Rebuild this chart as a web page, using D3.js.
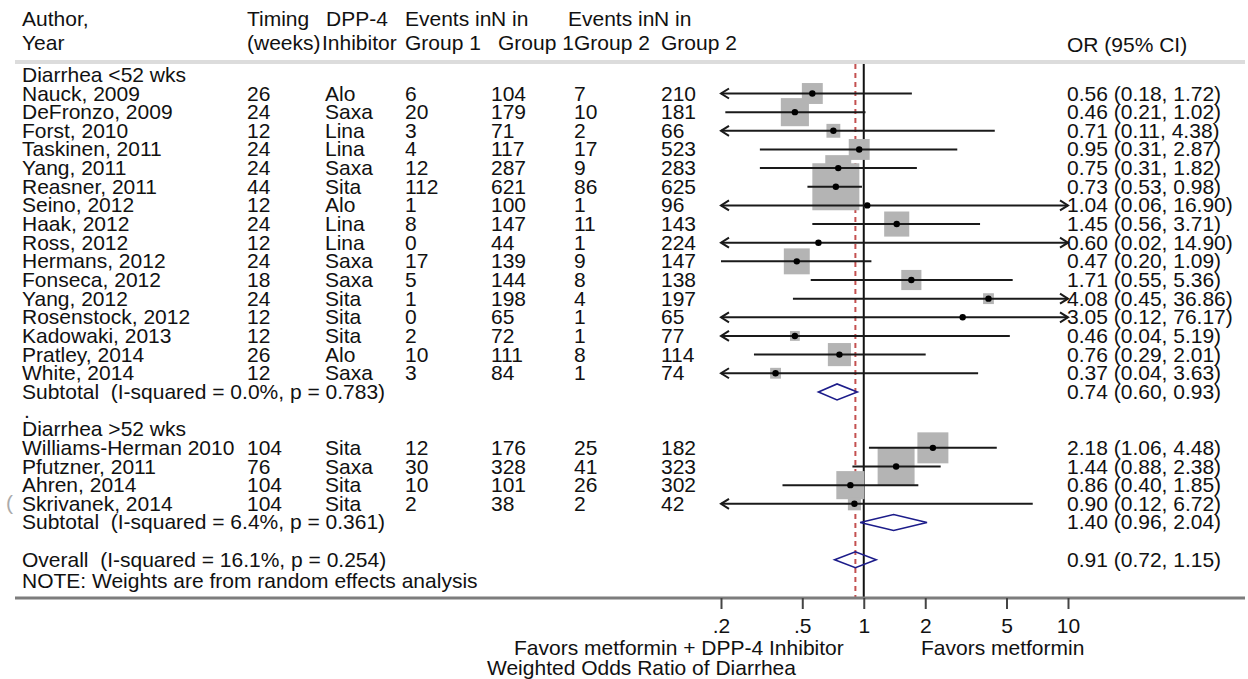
<!DOCTYPE html>
<html>
<head>
<meta charset="utf-8">
<script src="https://cdn.jsdelivr.net/npm/d3@7"></script>
<style>
  html, body { margin: 0; padding: 0; background: #fff; }
  svg { display: block; }
  text { font-family: "Liberation Sans", Arial, sans-serif; font-size: 21px; fill: #111; white-space: pre; }
</style>
</head>
<body>
<svg id="chart" width="1248" height="679"></svg>
<script>
// ---- study data -------------------------------------------------------
const authors  = ["Nauck, 2009", "DeFronzo, 2009", "Forst, 2010", "Taskinen, 2011", "Yang, 2011",
                  "Reasner, 2011", "Seino, 2012", "Haak, 2012", "Ross, 2012", "Hermans, 2012",
                  "Fonseca, 2012", "Yang, 2012", "Rosenstock, 2012", "Kadowaki, 2013", "Pratley, 2014",
                  "White, 2014",
                  "Williams-Herman 2010", "Pfutzner, 2011", "Ahren, 2014", "Skrivanek, 2014"];
const subgroup = [0,0,0,0,0,0,0,0,0,0,0,0,0,0,0,0, 1,1,1,1];
const timing   = [26, 24, 12, 24, 24, 44, 12, 24, 12, 24, 18, 24, 12, 12, 26, 12, 104, 76, 104, 104];
const inhibitor= ["Alo", "Saxa", "Lina", "Lina", "Saxa", "Sita", "Alo", "Lina", "Lina", "Saxa",
                  "Saxa", "Sita", "Sita", "Sita", "Alo", "Saxa", "Sita", "Saxa", "Sita", "Sita"];
const events1  = [6, 20, 3, 4, 12, 112, 1, 8, 0, 17, 5, 1, 0, 2, 10, 3, 12, 30, 10, 2];
const nGroup1  = [104, 179, 71, 117, 287, 621, 100, 147, 44, 139, 144, 198, 65, 72, 111, 84, 176, 328, 101, 38];
const events2  = [7, 10, 2, 17, 9, 86, 1, 11, 1, 9, 8, 4, 1, 1, 8, 1, 25, 41, 26, 2];
const nGroup2  = [210, 181, 66, 523, 283, 625, 96, 143, 224, 147, 138, 197, 65, 77, 114, 74, 182, 323, 302, 42];
const oddsRatio= [0.56, 0.46, 0.71, 0.95, 0.75, 0.73, 1.04, 1.45, 0.60, 0.47, 1.71, 4.08, 3.05, 0.46, 0.76, 0.37,
                  2.18, 1.44, 0.86, 0.90];
const ciLow    = [0.18, 0.21, 0.11, 0.31, 0.31, 0.53, 0.06, 0.56, 0.02, 0.20, 0.55, 0.45, 0.12, 0.04, 0.29, 0.04,
                  1.06, 0.88, 0.40, 0.12];
const ciHigh   = [1.72, 1.02, 4.38, 2.87, 1.82, 0.98, 16.90, 3.71, 14.90, 1.09, 5.36, 36.86, 76.17, 5.19, 2.01, 3.63,
                  4.48, 2.38, 1.85, 6.72];
// random-effects weights (%)
const weights  = [4.1, 7.4, 1.8, 4.1, 6.3, 20.7, 0.25, 5.9, 0.25, 6.3, 3.8, 1.1, 0.15, 0.9, 5.0, 1.1,
                  9.0, 12.8, 7.4, 1.6];

// pooled estimates
const pooledLabels = ["Subtotal  (I-squared = 0.0%, p = 0.783)",
                      "Subtotal  (I-squared = 6.4%, p = 0.361)",
                      "Overall  (I-squared = 16.1%, p = 0.254)"];
const pooledOR   = [0.74, 1.40, 0.91];
const pooledLow  = [0.60, 0.96, 0.72];
const pooledHigh = [0.93, 2.04, 1.15];

const subgroupTitles = ["Diarrhea <52 wks", "Diarrhea >52 wks"];

// axis
const tickValues = [0.2, 0.5, 1, 2, 5, 10];
const tickLabels = [".2", ".5", "1", "2", "5", "10"];

// ---- layout -------------------------------------------------------------
const svg = d3.select("#chart");

const x = d3.scaleLog().domain([0.2, 10]).range([721, 1068]);
const row = d3.scaleLinear().domain([0, 1]).range([93.5, 112.15]);
const boxSide = d3.scaleSqrt().domain([0, 20.7]).range([0, 47]);
const fmt = d3.format(".2f");

// row index of each study: first subgroup fills rows 0-15, second 19-22
const studyRow = [];
{
  let r0 = 0, r1 = 19;
  subgroup.forEach(g => studyRow.push(g === 0 ? r0++ : r1++));
}
const titleRow = [-1, 18];
const pooledRow = [16, 23, 25];
const noteRow = 26.15;

const cols = { author: 22, timing: 247, inhib: 325, ev1: 405, n1: 491, ev2: 574, n2: 661, ci: 1067 };
const baseOff = 7;

// header rule
svg.append("line").attr("x1", 15).attr("x2", 1245).attr("y1", 62).attr("y2", 62)
  .attr("stroke", "#dcdcdc").attr("stroke-width", 4);

// header text
const h1 = 26, h2 = 50;
const header = [
  ["Author,", cols.author, h1], ["Year", cols.author, h2],
  ["Timing", cols.timing, h1], ["(weeks)", cols.timing, h2],
  ["DPP-4", 326, h1], ["Inhibitor", 322, h2],
  ["Events in", cols.ev1, h1], ["Group 1", cols.ev1, h2],
  ["N in", cols.n1, h1], ["Group 1", 498, h2],
  ["Events in", 568, h1], ["Group 2", 574, h2],
  ["N in", 654, h1], ["Group 2", 661, h2],
  ["OR (95% CI)", cols.ci, h2 + 2]
];
svg.append("g").selectAll("text").data(header).join("text")
  .attr("x", d => d[1]).attr("y", d => d[2]).text(d => d[0]);

// reference lines: null effect and overall estimate
const yTop = 64, yAxis = 598;
svg.append("line").attr("x1", x(1)).attr("x2", x(1)).attr("y1", yTop).attr("y2", yAxis)
  .attr("stroke", "#111").attr("stroke-width", 2);
svg.append("line").attr("x1", x(pooledOR[2])).attr("x2", x(pooledOR[2])).attr("y1", yTop).attr("y2", yAxis)
  .attr("stroke", "#c45050").attr("stroke-width", 2).attr("stroke-dasharray", "5,4");

// weight boxes
const studies = authors.map((a, i) => ({
  author: a, row: studyRow[i], t: timing[i], inh: inhibitor[i],
  e1: events1[i], n1: nGroup1[i], e2: events2[i], n2: nGroup2[i],
  or: oddsRatio[i], lo: ciLow[i], hi: ciHigh[i], w: weights[i]
}));

svg.append("g").selectAll("rect").data(studies).join("rect")
  .attr("x", d => x(d.or) - boxSide(d.w) / 2)
  .attr("y", d => row(d.row) - boxSide(d.w) / 2)
  .attr("width", d => boxSide(d.w))
  .attr("height", d => boxSide(d.w))
  .attr("fill", "#b4b4b4");

// confidence intervals with arrows where clipped by the axis range
const [dMin, dMax] = x.domain();
const ciG = svg.append("g").attr("stroke", "#1a1a1a").attr("stroke-width", 2).attr("fill", "none");
studies.forEach(d => {
  const y = row(d.row);
  const x0 = x(Math.max(d.lo, dMin)), x1 = x(Math.min(d.hi, dMax));
  ciG.append("line").attr("x1", x0).attr("x2", x1).attr("y1", y).attr("y2", y);
  if (d.lo < dMin) {
    ciG.append("path").attr("d", `M${x0 + 8},${y - 5}L${x0},${y}L${x0 + 8},${y + 5}`);
  }
  if (d.hi > dMax) {
    ciG.append("path").attr("d", `M${x1 - 8},${y - 5}L${x1},${y}L${x1 - 8},${y + 5}`);
  }
});

// point estimates
svg.append("g").selectAll("circle").data(studies).join("circle")
  .attr("cx", d => x(d.or)).attr("cy", d => row(d.row)).attr("r", 3.2).attr("fill", "#000");

// pooled diamonds
const pooled = pooledOR.map((v, i) => ({ label: pooledLabels[i], or: v, lo: pooledLow[i], hi: pooledHigh[i], row: pooledRow[i] }));
svg.append("g").selectAll("path").data(pooled).join("path")
  .attr("d", d => {
    const y = row(d.row), h = 8;
    return `M${x(d.lo)},${y}L${x(d.or)},${y - h}L${x(d.hi)},${y}L${x(d.or)},${y + h}Z`;
  })
  .attr("fill", "none").attr("stroke", "#1c1c8a").attr("stroke-width", 1.6);

// table text
const tg = svg.append("g");
subgroupTitles.forEach((t, i) => tg.append("text").attr("x", cols.author).attr("y", row(titleRow[i]) + baseOff).text(t));
tg.append("text").attr("x", cols.author + 2).attr("y", row(17) + baseOff).text(".");

const rowsG = tg.selectAll("g.study").data(studies).join("g").attr("class", "study")
  .attr("transform", d => `translate(0,${row(d.row) + baseOff})`);
rowsG.append("text").attr("x", cols.author).text(d => d.author);
rowsG.append("text").attr("x", cols.timing).text(d => d.t);
rowsG.append("text").attr("x", cols.inhib).text(d => d.inh);
rowsG.append("text").attr("x", cols.ev1).text(d => d.e1);
rowsG.append("text").attr("x", cols.n1).text(d => d.n1);
rowsG.append("text").attr("x", cols.ev2).text(d => d.e2);
rowsG.append("text").attr("x", cols.n2).text(d => d.n2);
rowsG.append("text").attr("x", cols.ci).text(d => `${fmt(d.or)} (${fmt(d.lo)}, ${fmt(d.hi)})`);

pooled.forEach(d => {
  tg.append("text").attr("x", cols.author).attr("y", row(d.row) + baseOff).text(d.label);
  tg.append("text").attr("x", cols.ci).attr("y", row(d.row) + baseOff)
    .text(`${fmt(d.or)} (${fmt(d.lo)}, ${fmt(d.hi)})`);
});

// faint mark at the left edge beside the last study
tg.append("text").attr("x", 6).attr("y", row(22) + baseOff - 1).attr("font-size", 15)
  .style("fill", "#aaa").text("(");

tg.append("text").attr("x", cols.author).attr("y", row(noteRow) + baseOff)
  .text("NOTE: Weights are from random effects analysis");

// bottom rule and axis
svg.append("line").attr("x1", 15).attr("x2", 1245).attr("y1", yAxis).attr("y2", yAxis)
  .attr("stroke", "#7d7d7d").attr("stroke-width", 3);

const axis = d3.axisBottom(x).tickValues(tickValues)
  .tickFormat((d, i) => tickLabels[i]).tickSize(11).tickPadding(9);
const ag = svg.append("g").attr("transform", `translate(0,${yAxis})`).call(axis);
ag.select(".domain").remove();
ag.selectAll(".tick line").attr("stroke", "#444").attr("stroke-width", 2);
ag.selectAll(".tick text").attr("font-size", 21).attr("font-family", "Liberation Sans, Arial, sans-serif").style("fill", "#111");

svg.append("text").attr("x", x(1) - 20).attr("y", 655).attr("text-anchor", "end")
  .text("Favors metformin + DPP-4 Inhibitor");
svg.append("text").attr("x", 921).attr("y", 655).text("Favors metformin");
svg.append("text").attr("x", 487).attr("y", 675).text("Weighted Odds Ratio of Diarrhea");
</script>
</body>
</html>
